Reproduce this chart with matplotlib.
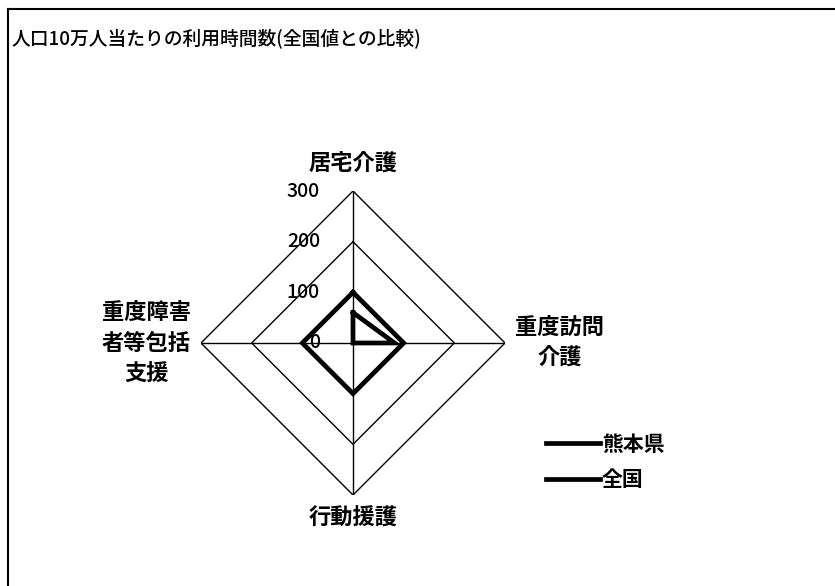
import matplotlib.pyplot as plt
import matplotlib.transforms as mtransforms
from matplotlib.lines import Line2D
import numpy as np

plt.rcParams['font.family'] = ['Noto Sans CJK JP', 'DejaVu Sans']

title = "人口10万人当たりの利用時間数(全国値との比較)"
categories = ["居宅介護", "重度訪問\n介護", "行動援護", "重度障害\n者等包括\n支援"]
kumamoto = [60, 82, 0, 0]
zenkoku = [100, 100, 100, 100]
series_names = ["熊本県", "全国"]
rticks = [0, 100, 200, 300]

fig = plt.figure(figsize=(8.35, 5.86), dpi=100)

# frame lines (top and left edge of the scanned chart box)
fig.add_artist(Line2D([8 / 835, 8 / 835], [0, 1 - 9 / 586], color="black", lw=1.5))
fig.add_artist(Line2D([8 / 835, 1], [1 - 9 / 586, 1 - 9 / 586], color="black", lw=1.5))

fig.text(12 / 835, 1 - 38 / 586, title, fontsize=13.5, va="center", ha="left", fontweight="medium")

ax = fig.add_axes([201 / 835, 91 / 586, 304 / 835, 304 / 586], projection="polar")
ax.set_theta_zero_location("N")
ax.set_theta_direction(-1)
ax.set_ylim(0, 300)
ax.grid(False)
ax.spines["polar"].set_visible(False)
ax.set_xticks([])
ax.set_yticks([])

angles = np.arange(len(categories)) * 2 * np.pi / len(categories)
closed = np.append(angles, angles[0])

# straight-edged grid
for r in rticks[1:]:
    ax.plot(closed, [r] * len(closed), color="black", lw=1.0)
for a in angles:
    ax.plot([a, a], [0, rticks[-1]], color="black", lw=1.0)

h1, = ax.plot(closed, kumamoto + kumamoto[:1], color="black", lw=3.4, solid_joinstyle="miter")
h2, = ax.plot(closed, zenkoku + zenkoku[:1], color="black", lw=3.4, solid_joinstyle="miter")

# radial value labels along the top axis
tlab = mtransforms.offset_copy(ax.transData, fig=fig, x=-33, y=0, units="dots")
for r in rticks:
    ax.text(0, r, str(r), transform=tlab, ha="right", va="center", fontsize=14,
            fontweight="medium")

# category labels
offsets = [(0, 27, "center", "center"), (10, 0, "left", "center"),
           (0, -12, "center", "top"), (-10, 0, "right", "center")]
for a, lab, (dx, dy, ha, va) in zip(angles, categories, offsets):
    tr = mtransforms.offset_copy(ax.transData, fig=fig, x=dx, y=dy, units="dots")
    ax.text(a, rticks[-1], lab, transform=tr, ha=ha, va=va, fontsize=16,
            fontweight="bold", multialignment="center", linespacing=1.45)

fig.legend([h1, h2], series_names, loc="upper left", bbox_to_anchor=(527 / 835, 1 - 415 / 586),
           frameon=False, prop={"size": 15, "weight": "bold"}, handlelength=2.6,
           handletextpad=0.1, labelspacing=0.7)

fig.savefig("out.png", dpi=100)
